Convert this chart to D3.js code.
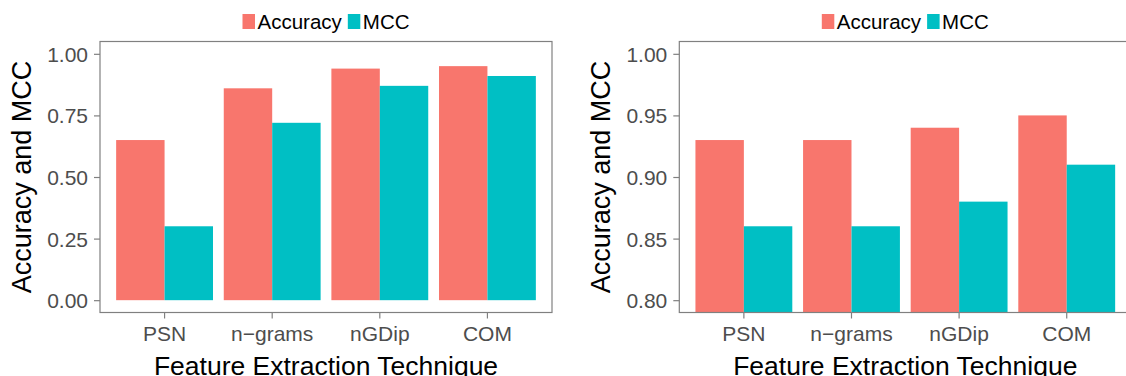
<!DOCTYPE html>
<html>
<head>
<meta charset="utf-8">
<script src="https://cdn.jsdelivr.net/npm/d3@7/dist/d3.min.js"></script>
<style>
  html, body { margin: 0; padding: 0; background: #fff; }
  svg { display: block; font-family: "Liberation Sans", Arial, Helvetica, sans-serif; }
</style>
</head>
<body>
<svg id="chart" width="1126" height="376"></svg>
<script>
// Feature extraction techniques compared on two metrics
const categories = ["PSN", "n\u2212grams", "nGDip", "COM"];
const seriesNames = ["Accuracy", "MCC"];
const seriesColors = ["#F8766D", "#00BFC4"];

// Left panel: full 0–1 scale
const accuracyFull = [0.65, 0.86, 0.94, 0.95];
const mccFull = [0.30, 0.72, 0.87, 0.91];
const ticksFull = [0.00, 0.25, 0.50, 0.75, 1.00];

// Right panel: zoomed 0.80–1.00 scale
const accuracyZoom = [0.93, 0.93, 0.94, 0.95];
const mccZoom = [0.86, 0.86, 0.88, 0.91];
const ticksZoom = [0.80, 0.85, 0.90, 0.95, 1.00];

const yTitle = "Accuracy and MCC";
const xTitle = "Feature Extraction Technique";

const svg = d3.select("#chart");
const borderColor = "#808080";
const tickTextColor = "#4D4D4D";

function drawPanel(id, left, right, values, ticks) {
  const top = 41.5, bottom = 312.5;
  const lo = ticks[0], hi = ticks[ticks.length - 1];
  const pad = (hi - lo) * 0.05;

  const y = d3.scaleLinear().domain([lo - pad, hi + pad]).range([bottom, top]);
  const x = d3.scaleBand().domain(categories).range([left, right])
    .paddingInner(0.1).paddingOuter(0.15);
  const xs = d3.scaleBand().domain(seriesNames).range([0, x.bandwidth()]).padding(0);

  const g = svg.append("g");

  g.append("clipPath").attr("id", "clip-" + id)
    .append("rect").attr("x", left).attr("y", top)
    .attr("width", right - left).attr("height", bottom - top);

  // bars
  const rows = categories.map((c, i) => ({
    cat: c,
    vals: seriesNames.map((s, j) => ({ series: s, value: values[j][i], color: seriesColors[j] }))
  }));

  const bars = g.append("g").attr("clip-path", `url(#clip-${id})`);
  bars.selectAll("g.cat").data(rows).join("g")
    .attr("class", "cat")
    .attr("transform", d => `translate(${x(d.cat)},0)`)
    .selectAll("rect").data(d => d.vals).join("rect")
    .attr("x", d => xs(d.series))
    .attr("width", xs.bandwidth())
    .attr("y", d => y(d.value))
    .attr("height", d => y(0) - y(d.value))
    .attr("fill", d => d.color);

  // panel border
  g.append("rect")
    .attr("x", left).attr("y", top)
    .attr("width", right - left).attr("height", bottom - top)
    .attr("fill", "none").attr("stroke", borderColor).attr("stroke-width", 1.2);

  // y axis
  const yAxis = d3.axisLeft(y).tickValues(ticks).tickFormat(d3.format(".2f"))
    .tickSize(6).tickPadding(6);
  const ya = g.append("g").attr("transform", `translate(${left},0)`).call(yAxis);
  ya.select(".domain").remove();
  ya.selectAll(".tick line").attr("stroke", borderColor).attr("stroke-width", 1.2);
  ya.selectAll(".tick text").attr("fill", tickTextColor)
    .style("font-size", "21px").attr("dy", "0.36em");

  // x axis
  const xAxis = d3.axisBottom(x).tickSize(6).tickPadding(8);
  const xa = g.append("g").attr("transform", `translate(0,${bottom})`).call(xAxis);
  xa.select(".domain").remove();
  xa.selectAll(".tick line").attr("stroke", borderColor).attr("stroke-width", 1.2);
  xa.selectAll(".tick text").attr("fill", tickTextColor)
    .style("font-size", "21px").attr("dy", "0.69em");

  // axis titles
  const cx = (left + right) / 2;
  g.append("text")
    .attr("x", cx).attr("y", 374.5)
    .attr("text-anchor", "middle")
    .style("font-size", "26.5px").attr("fill", "#000")
    .text(xTitle);

  g.append("text")
    .attr("transform", `translate(${left - 69},${(top + bottom) / 2}) rotate(-90)`)
    .attr("text-anchor", "middle")
    .style("font-size", "27px").attr("fill", "#000")
    .text(yTitle);

  // legend above the panel
  const lg = g.append("g");
  const keyW = 12.5, keyH = 15, keyY = 14, textGap = 2.5, itemGap = 6;
  let cursor = 0;
  seriesNames.forEach((s, j) => {
    lg.append("rect").attr("x", cursor).attr("y", keyY)
      .attr("width", keyW).attr("height", keyH).attr("fill", seriesColors[j]);
    cursor += keyW + textGap;
    const t = lg.append("text").attr("x", cursor).attr("y", 28.5)
      .style("font-size", "20.5px").attr("fill", "#000").text(s);
    cursor += t.node().getComputedTextLength() + itemGap;
  });
  const legendW = cursor - itemGap;
  lg.attr("transform", `translate(${cx - legendW / 2},0)`);
}

drawPanel("full", 100, 552, [accuracyFull, mccFull], ticksFull);
drawPanel("zoom", 679.3, 1131.3, [accuracyZoom, mccZoom], ticksZoom);
</script>
</body>
</html>
